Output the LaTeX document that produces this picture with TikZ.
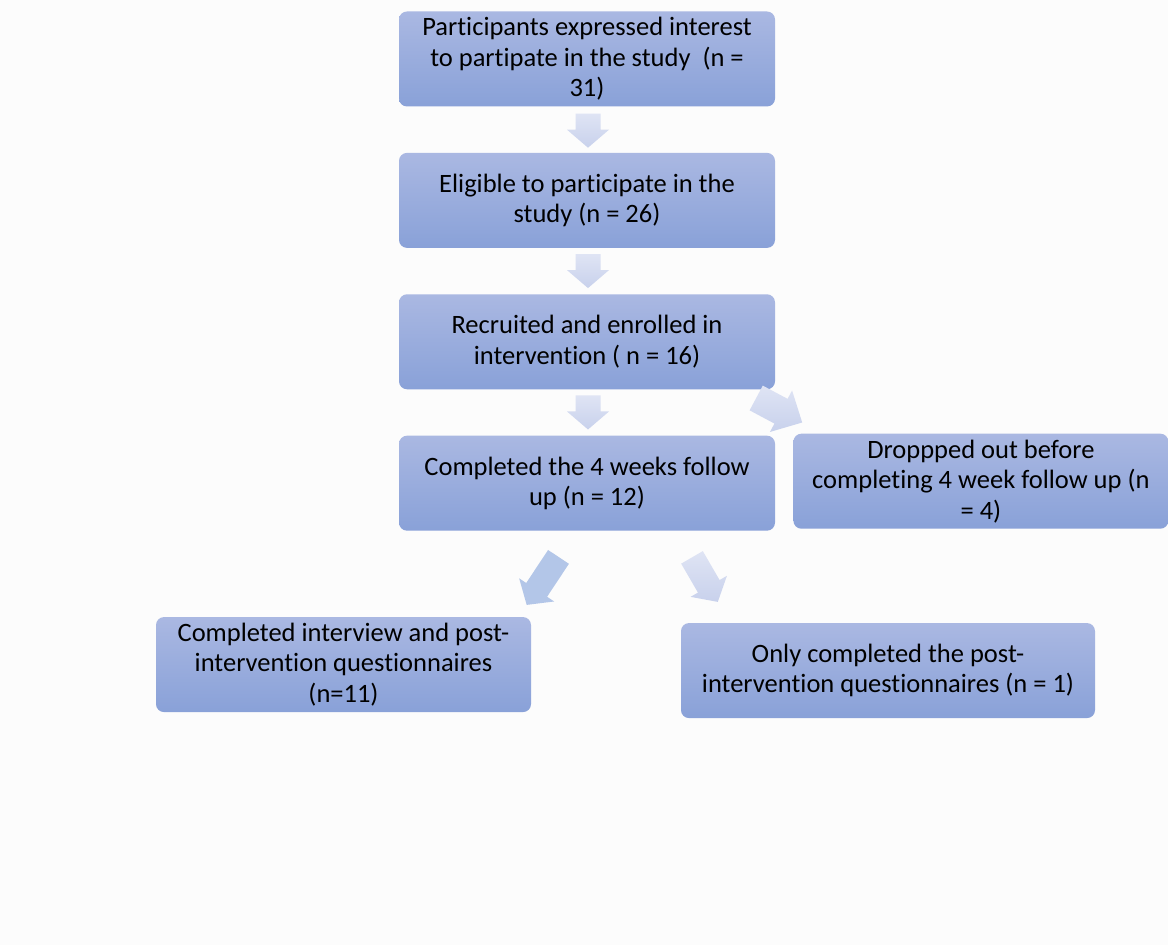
\documentclass[tikz,border=0pt]{standalone}
\usepackage{fontspec}
\setmainfont[Ligatures=NoCommon]{Carlito}
\usetikzlibrary{calc,positioning}

\definecolor{boxtop}{RGB}{170,184,226}
\definecolor{boxbot}{RGB}{137,161,216}
\definecolor{arrtop}{RGB}{223,228,244}
\definecolor{arrbot}{RGB}{200,209,236}
\definecolor{arrdark}{RGB}{179,198,232}
\definecolor{pagebg}{RGB}{252,252,252}

\tikzset{
  stepbox/.style={rectangle, rounded corners=8pt, top color=boxtop, bottom color=boxbot,
    minimum width=376pt, minimum height=95pt, inner sep=0pt, align=center,
    font=\fontsize{26.5}{30.5}\selectfont},
  flowarrow/.style={top color=arrtop, bottom color=arrbot},
  darkarrow/.style={fill=arrdark},
}

% block arrow from tail #2 to tip #3
\def\arrshaft{12.5pt}
\def\arrhead{21pt}
\def\arrlen{18pt}
\newcommand{\blockarrow}[3][flowarrow]{%
  \coordinate (neck) at ($(#3)!\arrlen!(#2)$);
  \path[#1] ($(#2)!\arrshaft!90:(#3)$) -- ($(neck)!\arrshaft!90:(#3)$)
    -- ($(neck)!\arrhead!90:(#3)$) -- (#3) -- ($(neck)!\arrhead!-90:(#3)$)
    -- ($(neck)!\arrshaft!-90:(#3)$) -- ($(#2)!\arrshaft!-90:(#3)$) -- cycle;
}

\begin{document}
\begin{tikzpicture}[x=1pt,y=1pt]
  \fill[pagebg] (0,0) rectangle (1168,945);
  \useasboundingbox (0,0) rectangle (1168,945);
  %boxes
  \node[stepbox] (interest) at (587,886) {Participants expressed interest\\to partipate in the study~~(n =\\31)};
  \node[stepbox, below=46pt of interest] (eligible) {Eligible to participate in the\\study (n = 26)};
  \node[stepbox, below=46pt of eligible] (enrolled) {Recruited and enrolled in\\intervention ( n = 16)};
  \node[stepbox, below=46pt of enrolled] (followup) {Completed the 4 weeks follow\\up (n = 12)};
  \node[stepbox, minimum width=375pt, right=18pt of followup, yshift=2pt] (dropout) {Droppped out before\\completing 4 week follow up (n\\= 4)};
  \node[stepbox, minimum width=375pt, below=86pt of followup, xshift=-243.5pt] (interview) {Completed interview and post-\\intervention questionnaires\\(n=11)};
  \node[stepbox, minimum width=414pt, below=92pt of followup, xshift=301pt] (postonly) {Only completed the post-\\intervention questionnaires (n = 1)};
  %arrows
  \coordinate (t1) at ($(interest.south)+(1,-7)$);
  \coordinate (h1) at ($(eligible.north)+(1,5)$);
  \coordinate (t2) at ($(eligible.south)+(1,-6)$);
  \coordinate (h2) at ($(enrolled.north)+(1,6)$);
  \coordinate (t3) at ($(enrolled.south)+(1,-6)$);
  \coordinate (h3) at ($(followup.north)+(1,6)$);
  \coordinate (t4) at ($(enrolled.south east)+(-19,-8.5)$);
  \coordinate (h4) at ($(dropout.north west)+(9,11)$);
  \coordinate (t5) at ($(followup.south)+(-28.5,-26)$);
  \coordinate (h5) at ($(interview.north east)+(-4.5,12)$);
  \coordinate (t6) at ($(followup.south)+(105,-26.5)$);
  \coordinate (h6) at ($(postonly.north west)+(37,21)$);
  \blockarrow{t1}{h1}
  \blockarrow{t2}{h2}
  \blockarrow{t3}{h3}
  \blockarrow[darkarrow]{t5}{h5}
  \blockarrow{t6}{h6}
  \def\arrshaft{14pt}
  \def\arrhead{23.5pt}
  \def\arrlen{24pt}
  \blockarrow{t4}{h4}
\end{tikzpicture}
\end{document}
